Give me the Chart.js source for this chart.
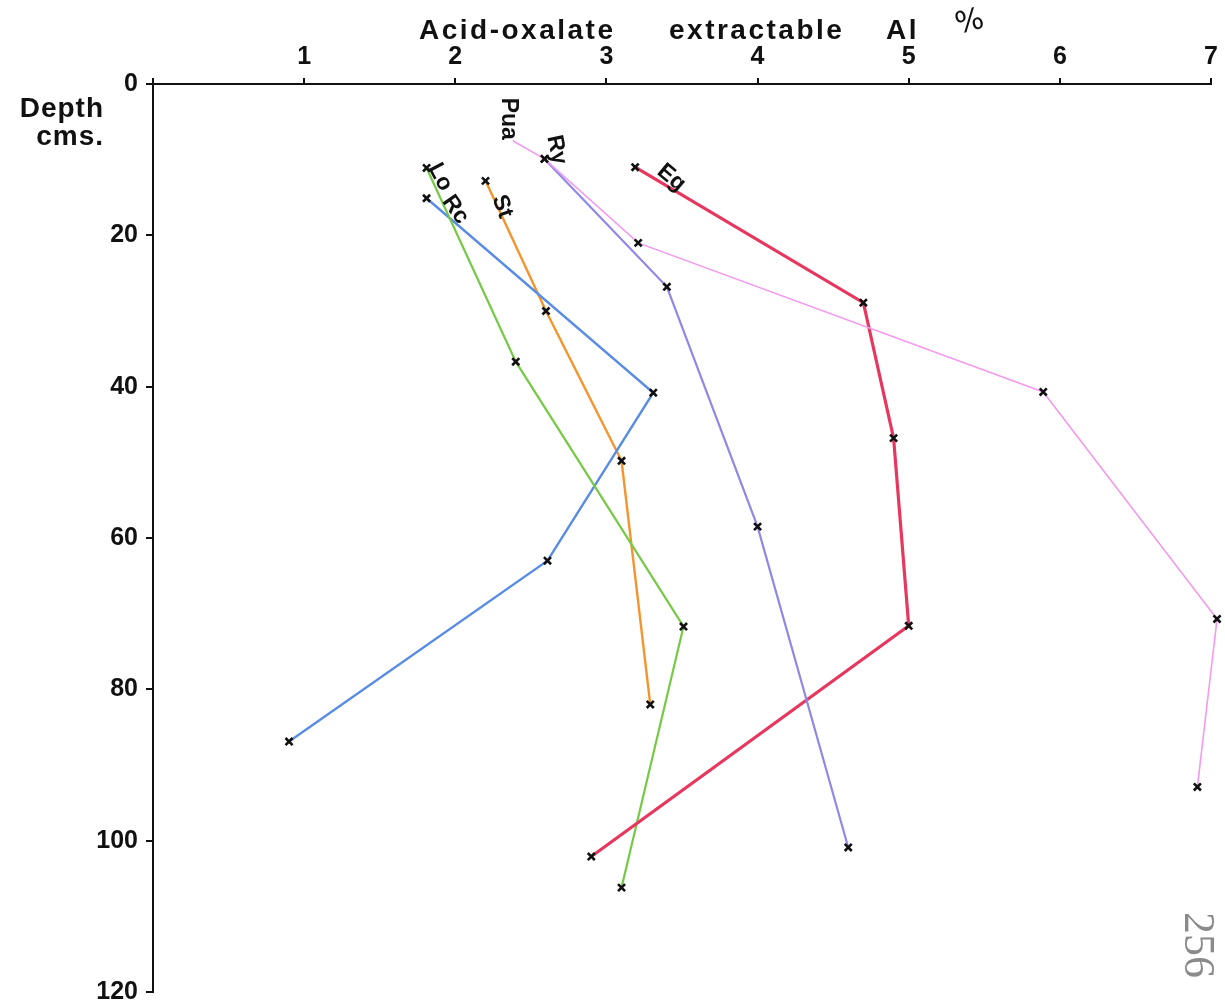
<!DOCTYPE html>
<html><head><meta charset="utf-8">
<script src="https://cdn.jsdelivr.net/npm/chart.js@4/dist/chart.umd.min.js"></script>
<style>html,body{margin:0;padding:0;background:#fff}#wrap{position:relative;width:1225px;height:1006px}</style>
</head><body><div id="wrap"><canvas id="c" width="1225" height="1006"></canvas></div>
<script>
// ---- data (Acid-oxalate extractable Al %, depth cm) ----
const SERIES_NAMES = ['Pua', 'Ry', 'Eg', 'Lo', 'Rc', 'St'];
const PUA_AL    = [2.38, 2.59, 3.21, 5.89, 7.04, 6.91];
const PUA_DEPTH = [7.5, 9.9, 21.0, 40.7, 70.7, 92.9];
const RY_AL     = [2.59, 3.40, 4.00, 4.60];
const RY_DEPTH  = [9.9, 26.8, 58.5, 100.9];
const EG_AL     = [3.19, 4.70, 4.90, 5.00, 2.90];
const EG_DEPTH  = [11.0, 28.9, 46.8, 71.6, 102.1];
const LO_AL     = [1.81, 2.40, 3.51, 3.10];
const LO_DEPTH  = [11.1, 36.7, 71.7, 106.2];
const RC_AL     = [1.81, 3.31, 2.61, 0.90];
const RC_DEPTH  = [15.1, 40.8, 63.0, 86.9];
const ST_AL     = [2.20, 2.60, 3.10, 3.29];
const ST_DEPTH  = [12.8, 30.0, 49.8, 82.0];
const X_TICKS = [1, 2, 3, 4, 5, 6, 7];
const Y_TICKS = [0, 20, 40, 60, 80, 100, 120];
// label anchors (in data units) and rotation
const LABEL_AL    = [2.35, 2.67, 3.43, 1.90, 2.00, 2.31];
const LABEL_DEPTH = [4.6, 8.7, 12.4, 12.3, 16.6, 16.2];
const LABEL_ROT   = [90, 78, 40, 62, 55, 70];

const pts = (xs, ys) => xs.map((x, i) => ({x, y: ys[i]}));
const FONT = '"Liberation Sans", Arial, sans-serif';

function ds(label, xs, ys, color, w, radii) {
  return {
    label, data: pts(xs, ys), borderColor: color, borderWidth: w, clip: false,
    pointStyle: 'crossRot', pointRadius: radii || 5, pointBorderColor: '#111',
    pointBorderWidth: 2.6, pointBackgroundColor: '#111', fill: false, tension: 0
  };
}

const textPlugin = {
  id: 'texts',
  afterDraw(chart) {
    const ctx = chart.ctx, xs = chart.scales.x, ys = chart.scales.y;
    ctx.save();
    ctx.fillStyle = '#111';
    // title
    ctx.font = 'bold 28px ' + FONT;
    ctx.textBaseline = 'alphabetic';
    ctx.textAlign = 'left';
    ctx.letterSpacing = '2.5px';
    ctx.fillText('Acid-oxalate', 419, 39);
    ctx.fillText('extractable', 669, 39);
    ctx.fillText('Al', 886, 39);
    ctx.letterSpacing = '0px';
    ctx.font = '30px "DejaVu Sans", sans-serif';
    ctx.save();
    ctx.translate(970, 23);
    ctx.rotate(-0.25);
    ctx.textAlign = 'center'; ctx.textBaseline = 'middle';
    ctx.fillText('%', 0, 0);
    ctx.restore();
    // y title
    ctx.font = 'bold 28px ' + FONT;
    ctx.textAlign = 'right';
    ctx.letterSpacing = '1px';
    ctx.fillText('Depth', 104, 117);
    ctx.fillText('cms.', 104, 145);
    ctx.letterSpacing = '0px';
    // series labels
    ctx.font = 'bold 23px ' + FONT;
    ctx.textAlign = 'center'; ctx.textBaseline = 'middle';
    SERIES_NAMES.forEach((n, i) => {
      ctx.save();
      ctx.translate(xs.getPixelForValue(LABEL_AL[i]), ys.getPixelForValue(LABEL_DEPTH[i]));
      ctx.rotate(LABEL_ROT[i] * Math.PI / 180);
      ctx.fillText(n, 0, 0);
      ctx.restore();
    });
    // page number
    ctx.save();
    ctx.fillStyle = '#8a8a8a';
    ctx.font = '44px "Liberation Serif", serif';
    ctx.translate(1197, 945);
    ctx.rotate(Math.PI / 2);
    ctx.textAlign = 'center'; ctx.textBaseline = 'middle';
    ctx.fillText('256', 0, 0);
    ctx.restore();
    ctx.restore();
  }
};

new Chart(document.getElementById('c'), {
  type: 'line',
  data: {
    datasets: [
      ds('Pua', PUA_AL, PUA_DEPTH, '#f49af0', 1.6, [0, 5, 5, 5, 5, 5]),
      ds('Ry', RY_AL, RY_DEPTH, '#8f88e6', 2.2),
      ds('Eg', EG_AL, EG_DEPTH, '#e8375e', 3.2),
      ds('Lo', LO_AL, LO_DEPTH, '#74c945', 2.2),
      ds('Rc', RC_AL, RC_DEPTH, '#5a8de2', 2.4),
      ds('St', ST_AL, ST_DEPTH, '#f5932d', 2.4)
    ]
  },
  options: {
    responsive: false, animation: false, devicePixelRatio: 1,
    layout: {padding: {left: 0, top: 0, right: 14, bottom: 14}},
    plugins: {legend: {display: false}, tooltip: {enabled: false}, title: {display: false}},
    scales: {
      x: {
        type: 'linear', position: 'top', min: 0, max: 7,
        afterBuildTicks: s => { s.ticks = [0].concat(X_TICKS).map(v => ({value: v})); },
        ticks: {callback: v => v === 0 ? '' : String(v), color: '#111', padding: 6,
                font: {family: FONT, size: 25, weight: 'bold'}, maxRotation: 0},
        grid: {drawOnChartArea: false, drawTicks: true, tickLength: 6, color: '#111', lineWidth: 2},
        border: {display: true, color: '#111', width: 2},
        afterFit: s => { s.height = 84; s.paddingLeft = 0; s.paddingRight = 0; }
      },
      y: {
        type: 'linear', reverse: true, min: 0, max: 120,
        afterBuildTicks: s => { s.ticks = Y_TICKS.map(v => ({value: v})); },
        ticks: {color: '#111', padding: 8, font: {family: FONT, size: 25, weight: 'bold'}},
        grid: {drawOnChartArea: false, drawTicks: true, tickLength: 7, color: '#111', lineWidth: 2},
        border: {display: true, color: '#111', width: 2},
        afterFit: s => { s.width = 153; s.paddingTop = 0; s.paddingBottom = 0; }
      }
    }
  },
  plugins: [textPlugin]
});
</script></body></html>
